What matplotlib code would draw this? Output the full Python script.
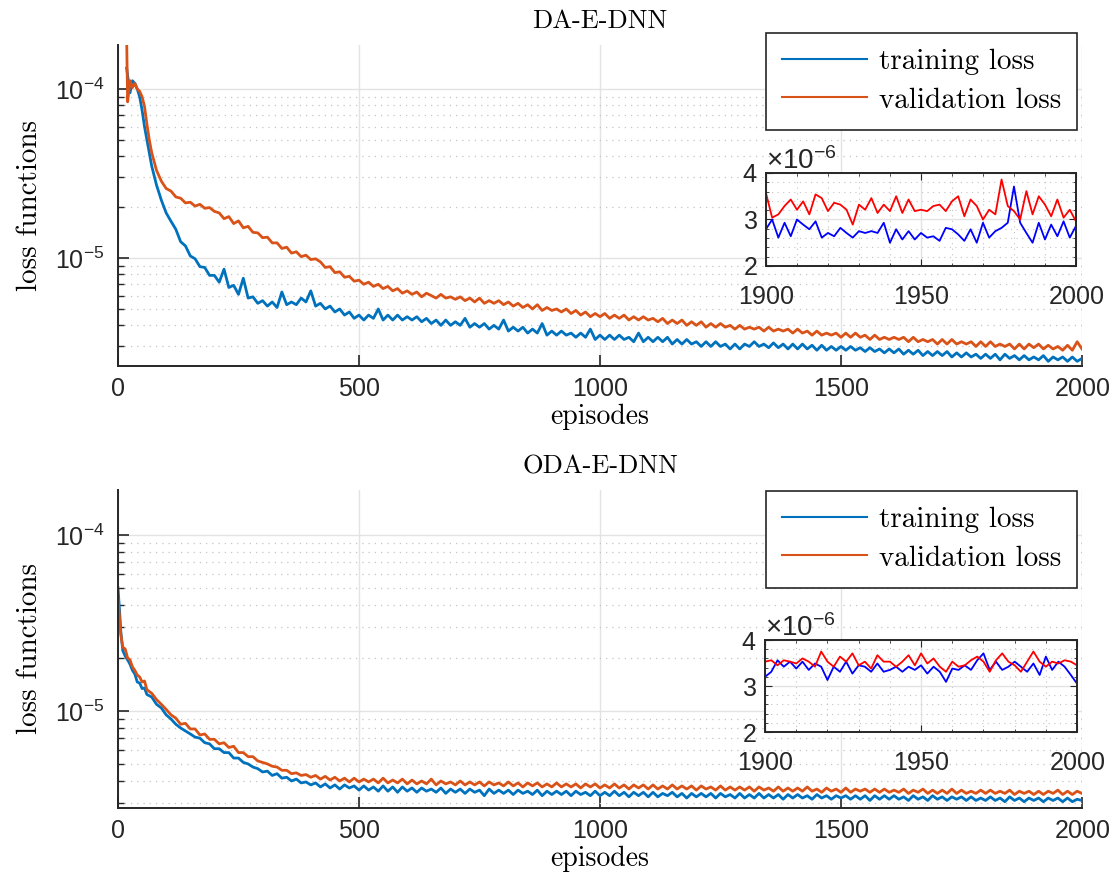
import numpy as np
import matplotlib
matplotlib.use('Agg')
import matplotlib.pyplot as plt
from matplotlib.ticker import LogLocator, NullFormatter, ScalarFormatter, MultipleLocator

# values in units of 1e-6
# ---- DA-E-DNN (top) ----
da_ep_early = [18, 20, 25, 30, 35, 40, 45, 50, 55, 60, 65, 70, 80, 90, 100]
da_train_early = [133, 120, 95, 112, 108, 100, 90, 75, 60, 50, 42, 35, 27, 22, 18.5]
da_val_early = [200, 84, 112, 102, 108, 100, 97, 90, 79, 62, 50, 42, 33, 28.5, 25.8]

da_train = [16.5, 14.8, 12.5, 11.8, 10.3, 9.9, 8.9, 8.8, 7.9, 7.9,
            7.2, 8.6, 6.7, 6.9, 6.1, 7.6, 5.8, 5.9, 5.4, 5.6,
            5.2, 5.5, 5.1, 6.3, 5.3, 5.5, 5.3, 5.8, 5.5, 6.4,
            5.2, 5.4, 5.0, 5.2, 4.8, 5.0, 4.6, 4.8, 4.4, 4.6,
            4.3, 4.6, 4.4, 5.0, 4.3, 4.6, 4.3, 4.6, 4.3, 4.5,
            4.3, 4.5, 4.2, 4.4, 4.1, 4.3, 4.0, 4.3, 4.0, 4.2,
            4.0, 4.4, 3.9, 4.1, 3.9, 4.1, 3.8, 4.0, 3.8, 4.3,
            3.7, 3.9, 3.7, 3.9, 3.6, 3.8, 3.6, 4.1, 3.5, 3.7,
            3.5, 3.7, 3.5, 3.6, 3.4, 3.6, 3.4, 3.8, 3.3, 3.5,
            3.3, 3.5, 3.3, 3.5, 3.3, 3.4, 3.2, 3.6, 3.2, 3.4,
            3.2, 3.4, 3.2, 3.4, 3.1, 3.3, 3.1, 3.3, 3.1, 3.2,
            3.0, 3.2, 3.0, 3.2, 3.0, 3.1, 2.9, 3.1, 2.9, 3.1,
            3.0, 3.2, 3.0, 3.1, 2.95, 3.15, 2.95, 3.1, 2.9, 3.1,
            2.9, 3.1, 2.9, 3.05, 2.85, 3.05, 2.85, 3.0, 2.85, 3.0,
            2.85, 3.0, 2.85, 2.95, 2.8, 2.95, 2.8, 2.9, 2.75, 2.9,
            2.75, 2.9, 2.7, 2.85, 2.7, 2.85, 2.65, 2.8, 2.65, 2.8,
            2.65, 2.8, 2.6, 2.75, 2.6, 2.75, 2.6, 2.7, 2.55, 2.7,
            2.55, 2.7, 2.5, 2.7, 2.55, 2.65, 2.5, 2.65, 2.5, 2.6,
            2.5, 2.65, 2.45, 2.6, 2.5, 2.6, 2.45, 2.6, 2.45, 2.55]
da_val = [24.9, 23.0, 22.6, 21.2, 21.4, 20.3, 20.8, 19.7, 19.9, 18.9,
          18.5, 17.1, 17.6, 16.0, 16.6, 15.1, 15.4, 14.2, 14.1, 13.2,
          13.3, 12.3, 12.3, 11.4, 11.6, 10.7, 10.9, 10.2, 10.4, 9.8,
          9.9, 9.5, 8.8, 8.9, 8.2, 8.3, 7.7, 7.8, 7.3, 7.4,
          7.0, 7.2, 6.8, 7.0, 6.6, 6.8, 6.4, 6.6, 6.2, 6.4,
          6.1, 6.3, 5.9, 6.2, 6.0, 5.8, 6.1, 5.8, 5.9, 5.7,
          5.9, 5.6, 5.8, 5.5, 5.8, 5.4, 5.6, 5.4, 5.6, 5.3,
          5.5, 5.2, 5.4, 5.1, 5.3, 5.0, 5.3, 4.9, 5.1, 4.9,
          5.0, 4.8, 5.0, 4.7, 4.9, 4.6, 4.8, 4.5, 4.7, 4.5,
          4.7, 4.4, 4.6, 4.4, 4.6, 4.3, 4.5, 4.3, 4.5, 4.3,
          4.4, 4.2, 4.4, 4.1, 4.3, 4.1, 4.3, 4.0, 4.2, 4.0,
          4.2, 3.9, 4.1, 3.9, 4.1, 3.9, 4.0, 3.8, 4.0, 3.8,
          3.9, 3.8, 3.9, 3.7, 3.9, 3.7, 3.8, 3.7, 3.8, 3.6,
          3.8, 3.6, 3.7, 3.5, 3.7, 3.5, 3.6, 3.5, 3.6, 3.4,
          3.6, 3.4, 3.6, 3.4, 3.5, 3.3, 3.5, 3.3, 3.4, 3.3,
          3.4, 3.3, 3.4, 3.2, 3.4, 3.2, 3.3, 3.2, 3.3, 3.1,
          3.3, 3.1, 3.3, 3.1, 3.2, 3.1, 3.2, 3.0, 3.2, 3.0,
          3.2, 3.0, 3.1, 3.0, 3.1, 2.9, 3.1, 2.9, 3.1, 2.95,
          3.1, 2.9, 3.05, 2.9, 3.0, 2.85, 3.05, 2.85, 3.2, 2.9]

# ---- ODA-E-DNN (bottom) ----
oda_ep_early = [0, 3, 6, 10, 15, 20, 25, 30, 35, 40, 45, 50, 55, 60, 70, 80, 90, 100]
oda_train_early = [50, 38, 28, 22, 20.5, 19.5, 18.4, 17, 16.2, 14.6, 14.4, 13.4, 13.5, 12.4, 12.0, 10.9, 10.4, 9.5]
oda_val_early = [44, 34, 27, 23, 22.5, 20, 19.5, 17.8, 17, 16, 15.6, 14.6, 14.8, 13.2, 12.6, 11.6, 10.9, 10.2]

oda_train = [9.0, 8.4, 8.0, 7.7, 7.4, 7.1, 7.0, 6.6, 6.5, 6.1,
             6.1, 5.8, 5.8, 5.4, 5.4, 5.1, 5.0, 4.8, 4.7, 4.5,
             4.55, 4.3, 4.4, 4.15, 4.2, 4.0, 4.1, 3.9, 3.95, 3.8,
             3.9, 3.7, 3.85, 3.65, 3.8, 3.6, 3.8, 3.65, 3.75, 3.55,
             3.75, 3.55, 3.7, 3.5, 3.75, 3.5, 3.7, 3.45, 3.7, 3.5,
             3.65, 3.45, 3.65, 3.5, 3.6, 3.45, 3.65, 3.4, 3.6, 3.45,
             3.6, 3.4, 3.6, 3.45, 3.55, 3.3, 3.6, 3.4, 3.55, 3.4,
             3.55, 3.35, 3.55, 3.4, 3.5, 3.35, 3.55, 3.3, 3.5, 3.35,
             3.5, 3.35, 3.5, 3.3, 3.5, 3.35, 3.45, 3.3, 3.5, 3.3,
             3.45, 3.3, 3.5, 3.3, 3.45, 3.25, 3.45, 3.3, 3.45, 3.25,
             3.45, 3.25, 3.4, 3.3, 3.45, 3.25, 3.4, 3.2, 3.4, 3.25,
             3.4, 3.25, 3.4, 3.2, 3.4, 3.25, 3.35, 3.2, 3.4, 3.2,
             3.35, 3.2, 3.4, 3.2, 3.35, 3.2, 3.35, 3.15, 3.35, 3.2,
             3.35, 3.2, 3.3, 3.15, 3.35, 3.2, 3.3, 3.15, 3.3, 3.2,
             3.3, 3.15, 3.3, 3.15, 3.3, 3.1, 3.3, 3.15, 3.3, 3.15,
             3.3, 3.15, 3.25, 3.1, 3.3, 3.15, 3.25, 3.1, 3.3, 3.15,
             3.25, 3.1, 3.25, 3.15, 3.25, 3.1, 3.25, 3.1, 3.2, 3.1,
             3.25, 3.1, 3.2, 3.05, 3.25, 3.1, 3.2, 3.05, 3.2, 3.1,
             3.2, 3.05, 3.2, 3.1, 3.2, 3.05, 3.2, 3.05, 3.15, 3.1]
oda_val = [9.5, 9.1, 8.4, 8.5, 7.9, 7.9, 7.3, 7.4, 6.9, 6.9,
           6.5, 6.6, 6.2, 6.3, 5.8, 5.8, 5.5, 5.5, 5.2, 5.1,
           5.0, 4.85, 4.8, 4.6, 4.6, 4.4, 4.45, 4.3, 4.35, 4.2,
           4.3, 4.1, 4.25, 4.05, 4.2, 4.0, 4.15, 3.95, 4.15, 3.95,
           4.1, 3.95, 4.1, 3.9, 4.15, 3.9, 4.05, 3.9, 4.1, 3.85,
           4.05, 3.85, 4.0, 3.85, 4.1, 3.8, 4.0, 3.85, 3.95, 3.8,
           4.0, 3.8, 3.95, 3.8, 3.95, 3.75, 3.95, 3.8, 3.9, 3.75,
           3.95, 3.75, 3.9, 3.7, 3.9, 3.75, 3.9, 3.7, 3.85, 3.7,
           3.9, 3.7, 3.85, 3.7, 3.85, 3.65, 3.85, 3.7, 3.85, 3.65,
           3.8, 3.65, 3.85, 3.65, 3.8, 3.6, 3.8, 3.65, 3.8, 3.6,
           3.8, 3.6, 3.75, 3.6, 3.8, 3.6, 3.75, 3.6, 3.75, 3.55,
           3.75, 3.6, 3.7, 3.55, 3.75, 3.55, 3.7, 3.55, 3.7, 3.55,
           3.7, 3.5, 3.7, 3.55, 3.65, 3.5, 3.7, 3.5, 3.65, 3.5,
           3.65, 3.5, 3.7, 3.5, 3.6, 3.45, 3.65, 3.5, 3.6, 3.45,
           3.65, 3.45, 3.6, 3.5, 3.6, 3.45, 3.6, 3.45, 3.6, 3.45,
           3.55, 3.45, 3.6, 3.4, 3.55, 3.45, 3.6, 3.4, 3.55, 3.4,
           3.55, 3.4, 3.6, 3.4, 3.55, 3.4, 3.5, 3.4, 3.55, 3.4,
           3.55, 3.4, 3.5, 3.4, 3.55, 3.35, 3.5, 3.4, 3.5, 3.35,
           3.5, 3.35, 3.5, 3.4, 3.55, 3.35, 3.5, 3.35, 3.5, 3.4]

# ---- zoomed insets, episodes 1900..2000 step 2 ----
da_in_val = [3.57, 3.04, 3.11, 3.29, 3.43, 3.21, 3.39, 3.11, 3.54, 3.46,
             3.18, 3.36, 3.32, 3.21, 2.89, 3.32, 3.21, 3.46, 3.14, 3.32,
             3.18, 3.50, 3.14, 3.43, 3.18, 3.21, 3.18, 3.29, 3.32, 3.18,
             3.39, 3.50, 3.07, 3.43, 3.29, 3.00, 3.21, 3.11, 3.86, 3.29,
             3.18, 3.00, 3.61, 3.11, 3.50, 3.32, 3.07, 3.43, 3.04, 3.21, 2.96]
da_in_train = [2.79, 3.00, 2.61, 2.93, 2.64, 3.00, 2.89, 2.79, 2.96, 2.61,
               2.71, 2.64, 2.82, 2.71, 2.61, 2.75, 2.71, 2.75, 2.71, 2.93,
               2.50, 2.79, 2.57, 2.75, 2.57, 2.71, 2.61, 2.64, 2.54, 2.82,
               2.79, 2.68, 2.54, 2.79, 2.50, 2.93, 2.61, 2.75, 2.82, 2.93,
               3.71, 2.93, 2.71, 2.50, 2.93, 2.57, 2.89, 2.64, 2.96, 2.61, 2.86]
oda_in_val = [3.53, 3.56, 3.45, 3.56, 3.53, 3.49, 3.60, 3.53, 3.42, 3.75,
              3.53, 3.42, 3.64, 3.53, 3.71, 3.45, 3.53, 3.38, 3.67, 3.53,
              3.53, 3.42, 3.53, 3.67, 3.45, 3.71, 3.49, 3.60, 3.42, 3.31,
              3.53, 3.42, 3.45, 3.56, 3.64, 3.53, 3.31, 3.56, 3.71, 3.53,
              3.45, 3.31, 3.53, 3.75, 3.53, 3.42, 3.53, 3.49, 3.56, 3.53, 3.45]
oda_in_train = [3.20, 3.31, 3.56, 3.42, 3.53, 3.38, 3.53, 3.35, 3.49, 3.42,
                3.13, 3.42, 3.31, 3.53, 3.27, 3.45, 3.42, 3.31, 3.49, 3.31,
                3.35, 3.42, 3.31, 3.42, 3.35, 3.45, 3.27, 3.42, 3.31, 3.09,
                3.38, 3.35, 3.45, 3.35, 3.56, 3.71, 3.35, 3.53, 3.35, 3.42,
                3.53, 3.42, 3.31, 3.49, 3.24, 3.64, 3.35, 3.53, 3.42, 3.24, 3.05]

BLUE = '#0072BD'
ORANGE = '#D95319'
SERIF = 'cmr10'

plt.rcParams['font.family'] = ['Liberation Sans', 'DejaVu Sans']
plt.rcParams['mathtext.fontset'] = 'custom'
plt.rcParams['mathtext.rm'] = 'Liberation Sans'
plt.rcParams['mathtext.default'] = 'regular'
plt.rcParams['axes.formatter.use_mathtext'] = True

fig = plt.figure(figsize=(11.12, 8.84), dpi=100)

ep_late = np.arange(110, 2001, 10)
ep_in = np.arange(1900, 2001, 2)


def main_panel(rect, title, ep_e, tr_e, va_e, tr, va, ylim):
    ax = fig.add_axes(rect)
    x = np.concatenate([ep_e, ep_late])
    ytr = np.concatenate([tr_e, tr]) * 1e-6
    yva = np.concatenate([va_e, va]) * 1e-6
    ax.plot(x, ytr, color=BLUE, lw=2.0, label='training loss')
    ax.plot(x, yva, color=ORANGE, lw=2.0, label='validation loss')
    ax.set_yscale('log')
    ax.set_xlim(0, 2000)
    ax.set_ylim(*ylim)
    ax.set_xticks([0, 500, 1000, 1500, 2000])
    ax.yaxis.set_major_locator(LogLocator(base=10, numticks=10))
    ax.yaxis.set_minor_locator(LogLocator(base=10, subs=np.arange(2, 10), numticks=20))
    ax.yaxis.set_minor_formatter(NullFormatter())
    ax.grid(True, which='major', color='#e3e3e3', lw=1.0)
    ax.grid(True, which='minor', axis='y', color='#c4c4c4', lw=0.9, ls=(0, (1, 4)))
    ax.set_axisbelow(True)
    for s in ('top', 'right'):
        ax.spines[s].set_visible(False)
    for s in ('left', 'bottom'):
        ax.spines[s].set_linewidth(1.4)
        ax.spines[s].set_color('#262626')
    ax.tick_params(which='both', direction='in', labelsize=18, colors='#262626')
    ax.tick_params(which='major', length=8, width=1.2)
    ax.tick_params(which='minor', length=4, width=1.0)
    ax.tick_params(axis='x', pad=8)
    ax.tick_params(axis='y', pad=10)
    ax.set_title(title, fontfamily=SERIF, fontsize=19, pad=12)
    ax.set_xlabel('episodes', fontfamily=SERIF, fontsize=20, labelpad=2)
    ax.set_ylabel('loss functions', fontfamily=SERIF, fontsize=21, labelpad=8)
    return ax


def inset_panel(rect, tr, va):
    ax = fig.add_axes(rect)
    ax.plot(ep_in, np.array(tr) * 1e-6, color='b', lw=1.3)
    ax.plot(ep_in, np.array(va) * 1e-6, color='r', lw=1.3)
    ax.set_xlim(1900, 2000)
    ax.set_ylim(2e-6, 4e-6)
    ax.set_xticks([1900, 1950, 2000])
    ax.set_yticks([2e-6, 3e-6, 4e-6])
    ax.yaxis.set_minor_locator(MultipleLocator(0.2e-6))
    ax.xaxis.set_minor_locator(MultipleLocator(10))
    fmt = ScalarFormatter(useMathText=True)
    fmt.set_powerlimits((0, 0))
    ax.yaxis.set_major_formatter(fmt)
    ax.yaxis.get_offset_text().set_fontsize(20)
    ax.grid(True, which='major', color='#e3e3e3', lw=1.0)
    ax.grid(True, which='minor', color='#c4c4c4', lw=0.8, ls=(0, (1, 4)))
    for s in ax.spines.values():
        s.set_linewidth(1.4)
        s.set_color('#262626')
    ax.tick_params(which='both', direction='in', top=True, right=True,
                   labelsize=18, colors='#262626')
    ax.tick_params(which='major', length=5)
    ax.tick_params(which='minor', length=2)
    ax.tick_params(axis='x', pad=14)
    ax.tick_params(axis='y', pad=6)
    return ax


ax1 = main_panel([0.1061, 0.586, 0.8669, 0.363], 'DA-E-DNN',
                 da_ep_early, da_train_early, da_val_early, da_train, da_val,
                 (2.3e-6, 1.82e-4))
ax2 = main_panel([0.1061, 0.086, 0.8669, 0.3597], 'ODA-E-DNN',
                 oda_ep_early, oda_train_early, oda_val_early, oda_train, oda_val,
                 (2.81e-6, 1.8e-4))

for ax, anchor in ((ax1, (0.9685, 0.9627)), (ax2, (0.9685, 0.4446))):
    handles, labels = ax.get_legend_handles_labels()
    leg = fig.legend(handles, labels, loc='upper right',
                     bbox_to_anchor=anchor, borderaxespad=0,
                     prop={'family': SERIF, 'size': 21},
                     frameon=True, fancybox=False, edgecolor='#262626',
                     framealpha=1, handlelength=2.9, handletextpad=0.4,
                     borderpad=0.55, labelspacing=0.4)
    leg.get_frame().set_linewidth(1.2)
    for h in leg.get_lines():
        h.set_linewidth(1.5)

inset_panel([0.6888, 0.6991, 0.2788, 0.1052], da_in_train, da_in_val)
inset_panel([0.688, 0.1719, 0.2806, 0.1041], oda_in_train, oda_in_val)

fig.savefig('out.png', dpi=100)
